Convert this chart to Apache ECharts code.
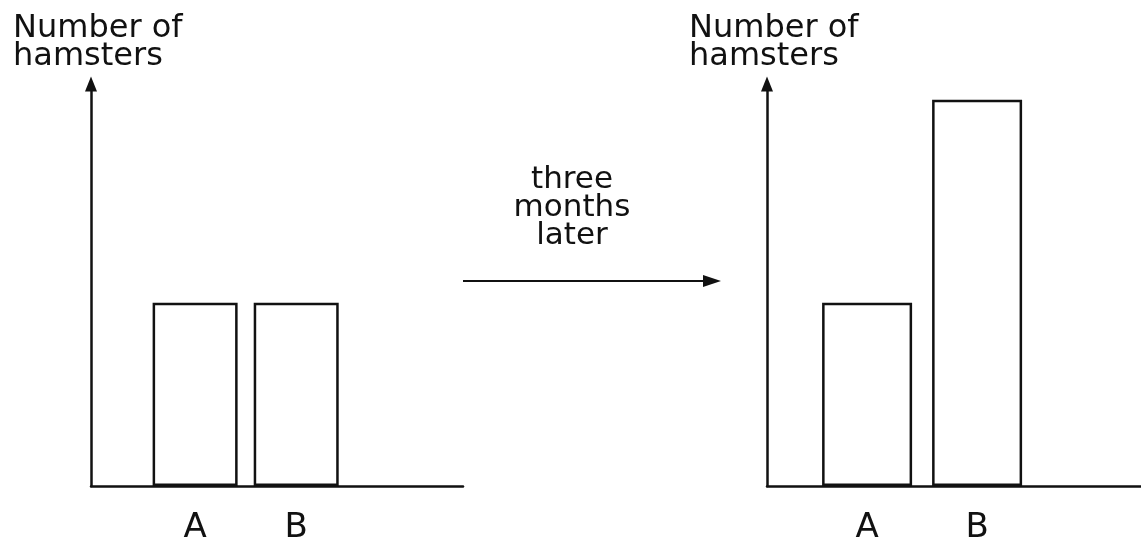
<!DOCTYPE html>
<html>
<head>
<meta charset="utf-8">
<script src="https://cdn.jsdelivr.net/npm/echarts@6/dist/echarts.min.js"></script>
<style>
  html, body { margin: 0; padding: 0; background: #fff; }
  #main { width: 1141px; height: 542px; }
</style>
</head>
<body>
<div id="main"></div>
<script>
// groups on the x axis and where each bar sits (axis units)
const groups = ['A', 'B'];
const groupPos = [1, 2];
// number of hamsters (no scale shown in the original, relative heights only)
const before = [4.1, 4.1];
const after = [4.1, 8.65];
const yName = ['Number of', 'hamsters'];
const arrowText = 'three\nmonths\nlater';

const FONT = 'DejaVu Sans';
const INK = '#111';

function pairs(vals) {
    return vals.map((v, i) => [groupPos[i], v]);
}

function xAxisFor(gridIndex, min, max) {
    return {
        type: 'value',
        gridIndex,
        min,
        max,
        splitLine: { show: false },
        axisTick: { show: false },
        axisLine: { show: true, onZero: false, lineStyle: { color: INK, width: 2.5 } },
        axisLabel: {
            customValues: groupPos,
            formatter: v => groups[groupPos.indexOf(v)] || '',
            color: INK,
            fontFamily: FONT,
            fontSize: 34,
            margin: 25
        }
    };
}

function yAxisFor(gridIndex) {
    return {
        type: 'value',
        gridIndex,
        min: 0,
        max: 9,
        name: yName.map(s => '{t|' + s + '}').join('\n'),
        nameLocation: 'end',
        nameGap: 13,
        nameTextStyle: {
            rich: {
                t: { width: 156, align: 'left', color: INK, fontFamily: FONT, fontSize: 32, lineHeight: 28 }
            }
        },
        splitLine: { show: false },
        axisTick: { show: false },
        axisLabel: { show: false },
        axisLine: {
            show: true,
            onZero: false,
            symbol: ['none', 'triangle'],
            symbolSize: [12, 15],
            lineStyle: { color: INK, width: 2.5 }
        }
    };
}

function barSeries(axisIndex, vals, width) {
    return {
        type: 'bar',
        xAxisIndex: axisIndex,
        yAxisIndex: axisIndex,
        data: pairs(vals),
        barWidth: width,
        itemStyle: { color: '#fff', borderColor: INK, borderWidth: 2.5 },
        silent: true
    };
}

const chart = echarts.init(document.getElementById('main'), null, { renderer: 'canvas' });
chart.setOption({
    backgroundColor: '#fff',
    animation: false,
    grid: [
        { left: 91, top: 84, width: 372, bottom: 56, outerBoundsMode: 'none' },
        { left: 767, top: 84, right: 0, bottom: 56, outerBoundsMode: 'none' }
    ],
    xAxis: [xAxisFor(0, -0.03, 3.65), xAxisFor(1, 0.09, 3.49)],
    yAxis: [yAxisFor(0), yAxisFor(1)],
    series: [barSeries(0, before, 85), barSeries(1, after, 90)],
    graphic: [
        {
            type: 'text',
            x: 572,
            y: 166,
            style: {
                text: arrowText,
                textAlign: 'center',
                fill: INK,
                font: '31px "' + FONT + '"',
                lineHeight: 28
            }
        },
        {
            type: 'line',
            shape: { x1: 463, y1: 281, x2: 708, y2: 281 },
            style: { stroke: INK, lineWidth: 2 }
        },
        {
            type: 'polygon',
            shape: { points: [[703, 275], [721, 281], [703, 287]] },
            style: { fill: INK }
        }
    ]
});
</script>
</body>
</html>
